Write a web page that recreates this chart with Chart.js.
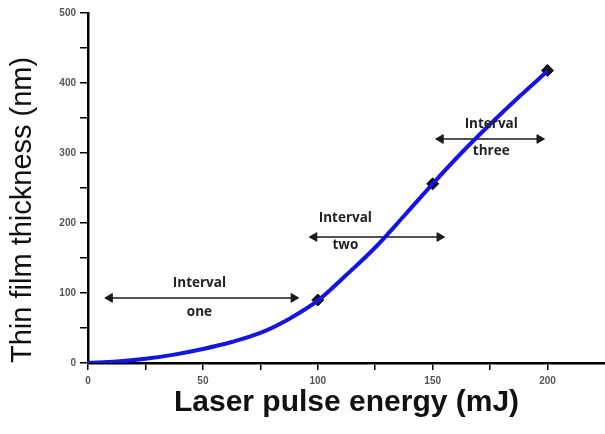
<!DOCTYPE html>
<html>
<head>
<meta charset="utf-8">
<script src="https://cdn.jsdelivr.net/npm/chart.js@4.4.1/dist/chart.umd.min.js"></script>
<style>
html,body{margin:0;padding:0;background:#fff;}
#wrap{width:605px;height:434px;}
</style>
</head>
<body>
<div id="wrap"><canvas id="c" width="605" height="434"></canvas></div>
<script>
// Fitted curve
const curveEnergy = [0, 12.5, 25, 37.5, 50, 62.5, 75, 87.5, 100, 112.5, 125, 137.5, 150, 162.5, 175, 187.5, 200];
const curveThickness = [0, 2, 6, 12, 20, 30, 43, 63, 89, 126, 165, 210, 256, 300, 341, 380, 417];
// Measured points (diamonds)
const pointEnergy = [100, 150, 200];
const pointThickness = [90, 256, 418];
// Interval arrows: start/end energy and thickness level
const intervalNames = ['one', 'two', 'three'];
const intervalStart = [9.5, 98.5, 153.5];
const intervalEnd = [89.5, 153, 196.5];
const intervalLevel = [93, 180, 320];
const intervalLabelX = [48.5, 112, 175.5];
const intervalLabelTop = [114, 207, 341];
const intervalLabelBottom = [73, 169, 303];
// Ticks
const xTickLabels = [0, 50, 100, 150, 200];
const yTickLabels = [0, 100, 200, 300, 400, 500];

const arrowSets = intervalNames.map((n, i) => ({
  label: 'Interval ' + n,
  data: [{x: intervalStart[i], y: intervalLevel[i]}, {x: intervalEnd[i], y: intervalLevel[i]}],
  showLine: true,
  borderColor: '#1a1a1a',
  borderWidth: 1.5,
  pointStyle: 'triangle',
  rotation: [-90, 90],
  pointRadius: 5,
  pointBackgroundColor: '#1a1a1a',
  pointBorderColor: '#1a1a1a',
  pointBorderWidth: 1,
  order: 3
}));

const labelPlugin = {
  id: 'intervalLabels',
  afterDatasetsDraw(chart) {
    const {ctx, scales: {x, y}} = chart;
    ctx.save();
    ctx.font = 'bold 13.5px "Open Sans", sans-serif';
    ctx.fillStyle = '#222';
    ctx.textAlign = 'center';
    ctx.textBaseline = 'middle';
    intervalNames.forEach((n, i) => {
      const px = x.getPixelForValue(intervalLabelX[i]);
      ctx.fillText('Interval', px, y.getPixelForValue(intervalLabelTop[i]));
      ctx.fillText(n, px, y.getPixelForValue(intervalLabelBottom[i]));
    });
    ctx.restore();
  }
};

new Chart(document.getElementById('c'), {
  type: 'scatter',
  data: {
    datasets: [
      {
        label: 'Points',
        data: pointEnergy.map((v, i) => ({x: v, y: pointThickness[i]})),
        pointStyle: 'rectRot',
        pointRadius: 6,
        pointBackgroundColor: '#111',
        pointBorderColor: '#111',
        showLine: false,
        order: 2
      },
      {
        label: 'Fit',
        data: curveEnergy.map((v, i) => ({x: v, y: curveThickness[i]})),
        showLine: true,
        borderColor: '#1515e0',
        borderWidth: 4,
        pointRadius: 0,
        cubicInterpolationMode: 'monotone',
        order: 1
      },
      ...arrowSets
    ]
  },
  options: {
    responsive: false,
    animation: false,
    layout: {autoPadding: false, padding: {top: 13, right: 0, bottom: 0, left: 0}},
    plugins: {legend: {display: false}, tooltip: {enabled: false}},
    scales: {
      x: {
        type: 'linear',
        min: 0, max: 225,
        afterFit(s) { s.height = 71; s.paddingRight = 0; },
        border: {color: '#000', width: 2.5},
        grid: {
          drawOnChartArea: false, drawTicks: true, tickLength: 7, lineWidth: 1.5,
          color: c => (c.tick && c.tick.value > 200) ? 'rgba(0,0,0,0)' : '#000'
        },
        ticks: {
          stepSize: 25, autoSkip: false, maxRotation: 0, padding: 5,
          color: '#555', font: {family: '"Liberation Sans", Arial, sans-serif', size: 10, weight: 'bold'},
          callback: v => xTickLabels.includes(v) ? String(v) : ''
        },
        title: {
          display: true, text: 'Laser pulse energy (mJ)',
          color: '#111', font: {family: '"Liberation Sans", Arial, sans-serif', size: 30, weight: 'bold'},
          padding: {top: 0, bottom: 13}
        }
      },
      y: {
        min: 0, max: 500,
        afterFit(s) { s.width = 88; },
        border: {color: '#000', width: 2.5},
        grid: {drawOnChartArea: false, drawTicks: true, tickLength: 8, lineWidth: 1.5, color: '#000'},
        ticks: {
          stepSize: 50, autoSkip: false, padding: 4,
          color: '#555', font: {family: '"Liberation Sans", Arial, sans-serif', size: 10, weight: 'bold'},
          callback: v => yTickLabels.includes(v) ? String(v) : ''
        },
        title: {
          display: true, text: 'Thin film thickness (nm)', align: 'start',
          color: '#111', font: {family: '"Liberation Sans", Arial, sans-serif', size: 29, weight: 'normal'},
          padding: {top: 6, bottom: 0}
        }
      }
    }
  },
  plugins: [labelPlugin]
});
</script>
</body>
</html>
